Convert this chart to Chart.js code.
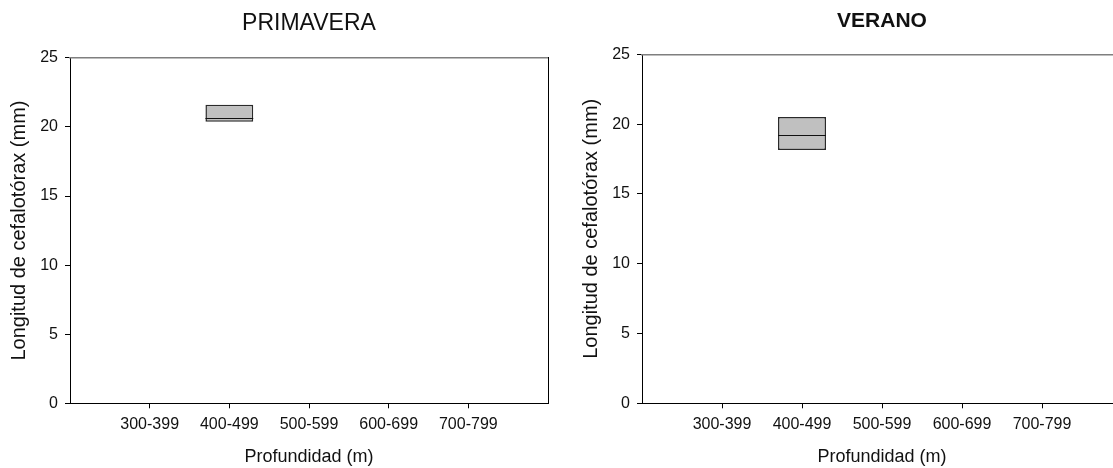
<!DOCTYPE html>
<html>
<head>
<meta charset="utf-8">
<script src="https://cdn.jsdelivr.net/npm/chart.js@4/dist/chart.umd.min.js"></script>
<style>
  html, body { margin: 0; padding: 0; background: #fff; overflow: hidden; width: 1113px; height: 468px; }
  .panel { position: absolute; top: 0; height: 468px; }
  #panelPrimavera { left: 0; width: 572px; }
  #panelVerano { left: 572px; width: 560px; }
</style>
</head>
<body>
<div class="panel" id="panelPrimavera"><canvas id="primavera" width="572" height="468"></canvas></div>
<div class="panel" id="panelVerano"><canvas id="verano" width="560" height="468"></canvas></div>
<script>
// Depth classes (m)
const depthRanges = ['300-399', '400-499', '500-599', '600-699', '700-799'];

// Carapace length (mm): lower quartile, median, upper quartile per depth class
const primaveraQ1     = [null, 20.38, null, null, null];
const primaveraMedian = [null, 20.67, null, null, null];
const primaveraQ3     = [null, 21.6,  null, null, null];

const veranoQ1     = [null, 18.15, null, null, null];
const veranoMedian = [null, 19.22, null, null, null];
const veranoQ3     = [null, 20.5,  null, null, null];

const yTickValues = [0, 5, 10, 15, 20, 25];

// one empty slot on each side of the depth classes
const axisLabels = ['', ...depthRanges, ''];
const pad = arr => [null, ...arr, null];

const FONT = "'Liberation Sans', Arial, sans-serif";
const INK = '#111';

// draws the median line across each box
const medianLines = {
  id: 'medianLines',
  afterDatasetsDraw(chart, args, opts) {
    const meta = chart.getDatasetMeta(0);
    const yScale = chart.scales.y;
    const ctx = chart.ctx;
    ctx.save();
    ctx.strokeStyle = opts.color;
    ctx.lineWidth = opts.width;
    meta.data.forEach((bar, i) => {
      const m = opts.values[i];
      if (m == null || bar.skip) return;
      const half = bar.width / 2;
      const py = Math.round(yScale.getPixelForValue(m)) + 0.5;
      ctx.beginPath();
      ctx.moveTo(bar.x - half, py);
      ctx.lineTo(bar.x + half, py);
      ctx.stroke();
    });
    ctx.restore();
  }
};

function buildChart(canvasId, cfg) {
  const q1 = pad(cfg.q1), q3 = pad(cfg.q3), med = pad(cfg.median);
  const boxes = q1.map((v, i) => (v == null || q3[i] == null) ? null : [v, q3[i]]);
  return new Chart(document.getElementById(canvasId), {
    type: 'bar',
    data: {
      labels: axisLabels,
      datasets: [{
        data: boxes,
        backgroundColor: '#c0c0c0',
        borderColor: '#2a2a2a',
        borderWidth: 1.5,
        borderSkipped: false,
        barPercentage: 0.6,
        categoryPercentage: 1
      }]
    },
    plugins: [medianLines],
    options: {
      responsive: false,
      devicePixelRatio: 1,
      animation: false,
      events: [],
      layout: { padding: { left: 0, right: cfg.padRight, top: 0, bottom: 0 } },
      plugins: {
        legend: { display: false },
        tooltip: { enabled: false },
        title: {
          display: true,
          text: cfg.title,
          fullSize: false,
          color: INK,
          font: { family: FONT, size: cfg.titleSize, weight: cfg.titleWeight, lineHeight: 1.2 },
          padding: { top: cfg.titleTop, bottom: cfg.titleBottom }
        },
        medianLines: { values: med, color: '#111', width: 1.2 }
      },
      scales: {
        x: {
          type: 'category',
          offset: false,
          position: 'bottom',
          afterFit: s => { s.height = 64.7; },
          border: { display: true, color: '#000', width: 1 },
          grid: {
            display: true,
            offset: false,
            drawOnChartArea: false,
            drawTicks: true,
            tickLength: 5,
            color: c => (c.index === 0 || c.index === axisLabels.length - 1) ? 'rgba(0,0,0,0)' : '#000'
          },
          ticks: {
            autoSkip: false, maxRotation: 0, minRotation: 0,
            padding: 7, color: INK,
            font: { family: FONT, size: 16 }
          },
          title: {
            display: true,
            text: 'Profundidad (m)',
            color: INK,
            font: { family: FONT, size: 18 },
            padding: { top: 0, bottom: 0 }
          }
        },
        y: {
          type: 'linear',
          position: 'left',
          min: 0,
          max: 25,
          afterFit: s => { s.width = 70; },
          afterBuildTicks: s => { s.ticks = yTickValues.map(v => ({ value: v })); },
          border: { display: true, color: '#000', width: 1 },
          grid: { display: true, drawOnChartArea: false, drawTicks: true, tickLength: 5, color: '#000' },
          ticks: { padding: 7, color: INK, font: { family: FONT, size: 16 } },
          title: {
            display: true,
            text: 'Longitud de cefalotórax (mm)',
            color: INK,
            font: { family: FONT, size: 20 },
            padding: { top: 7.5, bottom: 0 }
          }
        },
        xTop: {
          type: 'linear',
          position: 'top',
          min: 0, max: 1,
          border: { display: true, color: '#7f7f7f', width: 1.5 },
          grid: { display: false, drawTicks: false },
          ticks: { display: false }
        },
        yRight: {
          type: 'linear',
          position: 'right',
          min: 0, max: 1,
          border: { display: true, color: '#000', width: 1 },
          grid: { display: false, drawTicks: false },
          ticks: { display: false }
        }
      }
    }
  });
}

buildChart('primavera', {
  title: 'PRIMAVERA', titleWeight: 'normal', titleSize: 23,
  titleTop: 10.2, titleBottom: 20, padRight: 24,
  q1: primaveraQ1, median: primaveraMedian, q3: primaveraQ3
});

buildChart('verano', {
  title: 'VERANO', titleWeight: 'bold', titleSize: 21,
  titleTop: 8.6, titleBottom: 20.5, padRight: 10,
  q1: veranoQ1, median: veranoMedian, q3: veranoQ3
});
</script>
</body>
</html>
